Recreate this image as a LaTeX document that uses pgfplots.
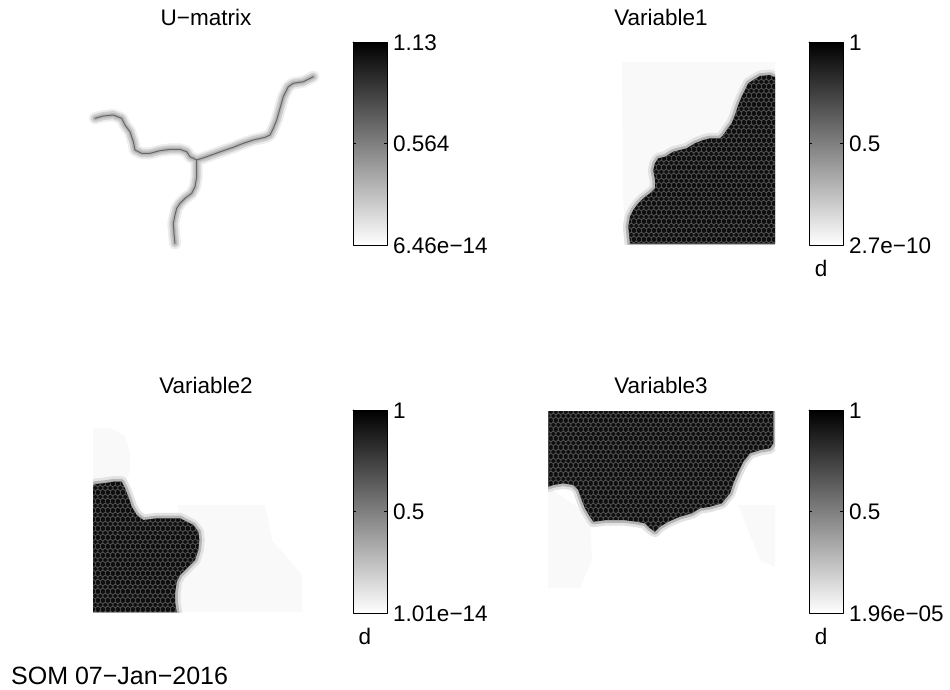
\documentclass[border=0pt]{standalone}
\usepackage{fontspec}
\setmainfont{Liberation Sans}
\usepackage{pgfplots}
\usepackage{pgfplotstable}
\pgfplotsset{compat=1.18}
\usetikzlibrary{patterns.meta}

\definecolor{dk}{gray}{0.06}
\definecolor{faint}{gray}{0.975}

% honeycomb of the SOM cells
\tikzdeclarepattern{
  name=hexgrid,
  type=uncolored,
  bounding box={(0pt,0pt) and (5.2pt,9pt)},
  tile size={(5.2pt,9pt)},
  code={
    \foreach \cx/\cy in {0/0, 5.2/0, 2.6/4.5, 0/9, 5.2/9} {
      \draw[line width=0.6pt] (\cx pt+2.6pt,\cy pt+1.5pt) -- (\cx pt,\cy pt+3pt) -- (\cx pt-2.6pt,\cy pt+1.5pt)
        -- (\cx pt-2.6pt,\cy pt-1.5pt) -- (\cx pt,\cy pt-3pt) -- (\cx pt+2.6pt,\cy pt-1.5pt) -- cycle;
    }
  }
}

% dark regions of the component planes, in pixel units of the figure
\pgfplotstableread{
x y
773.3 76.7
770 75
760 76
753.3 80
748.3 83.3
745 90
741.7 96.7
738.3 105
735 115
731.7 123.3
726.7 130
723.3 135
720 138.3
710 138.3
703.3 140
695 143.3
686.7 148.3
673.3 151.7
665 156.7
658.3 158.3
655 163.3
653.3 170
655 180
655 188.3
650 193.3
643.3 198.3
638.3 203.3
633.3 210
630 216.7
628.3 226.7
629.3 236.7
630 243.5
775 243.5
775 76.7
773.3 76.7
}\varone

\pgfplotstableread{
x y
93 486
95 484
103.3 483.3
113.3 481.7
121.7 481.7
125 488.3
128.3 496.7
131.7 506.7
136.7 515
143.3 520
156.7 518.3
170 518.3
180 518.3
186.7 521.7
193.3 525
198.3 531.7
199.3 540
198.3 550
195 560
186.7 568.3
180 575
176.7 581.7
175 593.3
175 601.7
176.7 612
93 612
93 486
}\vartwo

\pgfplotstableread{
x y
548.3 411
773.3 411
773.3 443.3
770 448.3
760 450
750 453.3
743.3 461.7
738.3 471.7
733.3 483.3
730 493.3
721.7 503.3
710 506.7
700 508.3
691.7 513.3
680 516.7
668.3 521.7
660 526.7
655 531.7
650 528.3
645 523.3
636.7 521.7
623.3 520
606.7 520
593.3 521.7
590 516.7
585 508.3
581.7 500
578.3 490
573.3 485
563.3 483.3
553.3 485
548.3 486.7
548.3 411
}\varthree

% U-matrix ridges
\pgfplotstableread{
x y
95 118.3
103.3 116
113.3 115
121.7 118.3
125 125
130 131.7
133.3 141.7
135 150
141.7 153.3
150 153.3
160 150.7
170 149.3
180 149.3
186.7 151.7
190 156.7
196.7 160
}\uleft

\pgfplotstableread{
x y
196.7 160
205 157.3
213.3 154.3
223.3 150.7
233.3 147.3
243.3 143.3
253.3 140
265 137.3
270 135
273.3 128.3
276.7 120
280 108.3
283.3 96.7
288.3 86.7
293.3 83.3
303.3 81.7
313.3 76.7
}\uright

\pgfplotstableread{
x y
196.7 160
196.7 166.7
196.7 176.7
195 186.7
191.7 193.3
185 198.3
180 203.3
176.7 208.3
175 215
173.3 223.3
174 233.3
175 243.3
}\udown

\begin{document}
\begin{tikzpicture}
\begin{axis}[
    at={(0,0)}, anchor=south west,
    width=950pt, height=689pt, scale only axis,
    xmin=0, xmax=950, ymin=0, ymax=689,
    y dir=reverse,
    hide axis, clip=false,
    every axis plot/.append style={line join=round, line cap=round},
    halo/.style={draw=gray!14, line width=12pt},
    band/.style={draw=gray!38, line width=8pt},
    mid/.style={draw=gray!58, line width=4pt},
    core/.style={draw=black!60, line width=1pt},
    edge1/.style={draw=gray!22, line width=11pt},
    edge2/.style={draw=gray!58, line width=5.5pt},
    cells/.style={pattern={hexgrid}, pattern color=black!68, draw=none},
    cbar/.style={draw=black, line width=0.8pt, top color=black, bottom color=white},
  ]

  % ---- U-matrix ----
  \addplot[halo] table {\uleft};
  \addplot[halo] table {\uright};
  \addplot[halo] table {\udown};
  \addplot[band] table {\uleft};
  \addplot[band] table {\uright};
  \addplot[band] table {\udown};
  \addplot[mid] table {\uleft};
  \addplot[mid] table {\uright};
  \addplot[mid] table {\udown};
  \addplot[core] table {\uleft};
  \addplot[core] table {\uright};
  \addplot[core] table {\udown};

  % ---- Variable1 ----
  \begin{scope}
    \clip (axis cs:548,62) rectangle (axis cs:775,244);
    \addplot[fill=faint, draw=none] coordinates {(622,62) (775,62) (775,244) (628,244) (623,200) (622,62)};
    \addplot[edge1] table {\varone};
    \addplot[edge2] table {\varone};
    \addplot[fill=dk, draw=none] table {\varone};
    \addplot[cells] table {\varone};
  \end{scope}

  % ---- Variable2 ----
  \begin{scope}
    \clip (axis cs:93,428) rectangle (axis cs:320,612);
    \addplot[fill=faint, draw=none] coordinates {(93,428) (110,428) (125,436) (130,452) (130,470) (125,484) (93,486) (93,428)};
    \addplot[fill=faint, draw=none] coordinates {(178,505) (265,505) (272,540) (302,575) (302,612) (176,612) (178,505)};
    \addplot[edge1] table {\vartwo};
    \addplot[edge2] table {\vartwo};
    \addplot[fill=dk, draw=none] table {\vartwo};
    \addplot[cells] table {\vartwo};
  \end{scope}

  % ---- Variable3 ----
  \begin{scope}
    \clip (axis cs:548,411) rectangle (axis cs:775,590);
    \addplot[fill=faint, draw=none] coordinates {(548,487) (590,515) (592,560) (580,588) (548,588) (548,487)};
    \addplot[fill=faint, draw=none] coordinates {(738,505) (775,505) (775,567) (760,560) (738,505)};
    \addplot[edge1] table {\varthree};
    \addplot[edge2] table {\varthree};
    \addplot[fill=dk, draw=none] table {\varthree};
    \addplot[cells] table {\varthree};
  \end{scope}

  % ---- colorbars ----
  \addplot[cbar] coordinates {(353,42) (387,42) (387,245) (353,245) (353,42)};
  \addplot[cbar] coordinates {(809,42) (843,42) (843,245) (809,245) (809,42)};
  \addplot[cbar] coordinates {(353,410) (387,410) (387,613) (353,613) (353,410)};
  \addplot[cbar] coordinates {(809,410) (843,410) (843,613) (809,613) (809,410)};

  \draw[line width=0.6pt] (axis cs:353,143.5) -- (axis cs:356,143.5) (axis cs:387,143.5) -- (axis cs:384,143.5);
  \draw[line width=0.6pt] (axis cs:809,143.5) -- (axis cs:812,143.5) (axis cs:843,143.5) -- (axis cs:840,143.5);
  \draw[line width=0.6pt] (axis cs:353,511.5) -- (axis cs:356,511.5) (axis cs:387,511.5) -- (axis cs:384,511.5);
  \draw[line width=0.6pt] (axis cs:809,511.5) -- (axis cs:812,511.5) (axis cs:843,511.5) -- (axis cs:840,511.5);

  \begin{scope}[every node/.style={inner sep=0pt, font=\fontsize{22.5}{26}\selectfont}]
    \node at (axis cs:206,17) {U−matrix};
    \node at (axis cs:661,17) {Variable1};
    \node at (axis cs:206,385) {Variable2};
    \node at (axis cs:661,385) {Variable3};

    \node[anchor=west] at (axis cs:393,43) {1.13};
    \node[anchor=west] at (axis cs:393,144) {0.564};
    \node[anchor=west] at (axis cs:393,246) {6.46e−14};

    \node[anchor=west] at (axis cs:849,43) {1};
    \node[anchor=west] at (axis cs:849,144) {0.5};
    \node[anchor=west] at (axis cs:849,246) {2.7e−10};
    \node at (axis cs:821,268) {d};

    \node[anchor=west] at (axis cs:393,411) {1};
    \node[anchor=west] at (axis cs:393,512) {0.5};
    \node[anchor=west] at (axis cs:393,614) {1.01e−14};
    \node at (axis cs:365,636) {d};

    \node[anchor=west] at (axis cs:849,411) {1};
    \node[anchor=west] at (axis cs:849,512) {0.5};
    \node[anchor=west] at (axis cs:849,614) {1.96e−05};
    \node at (axis cs:821,636) {d};

    \node[anchor=base west, font=\fontsize{25}{28}\selectfont] at (axis cs:11,684) {SOM 07−Jan−2016};
  \end{scope}
\end{axis}
\path (0,0) rectangle (950pt,689pt);
\end{tikzpicture}
\end{document}
